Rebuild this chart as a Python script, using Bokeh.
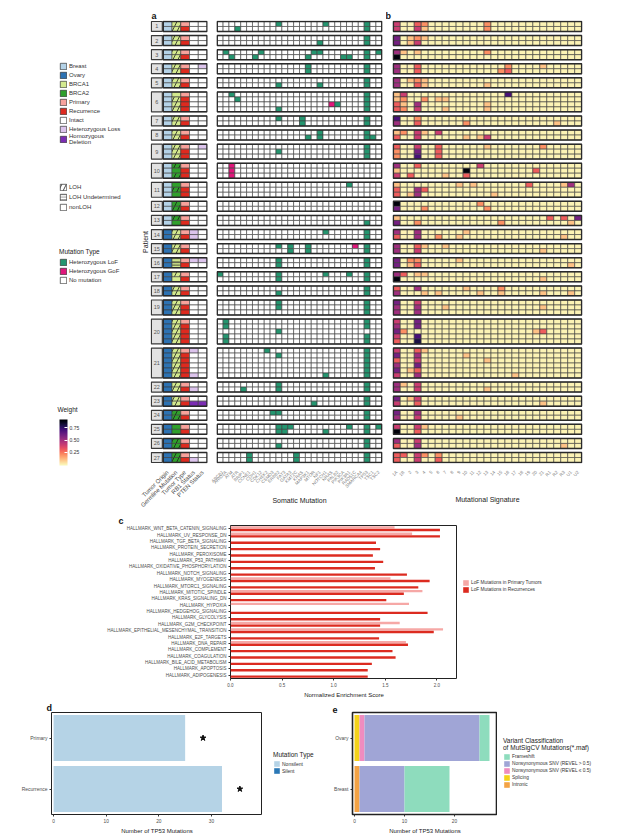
import math
from bokeh.plotting import figure
from bokeh.models import (ColumnDataSource, Range1d, FactorRange, FixedTicker, Legend,
                          LegendItem, LinearColorMapper, ColorBar, Label, NumeralTickFormatter,
                          Title)
from bokeh.layouts import row, column
from bokeh.transform import dodge
from bokeh.palettes import Magma256
from bokeh.embed import file_html
from bokeh.resources import INLINE
from bokeh.core.properties import value

FONT = "Liberation Sans"
TXT = "#333333"
NAN = float("nan")

# ---------------- data : panels a / b ----------------
patients = [str(i) for i in range(1, 28)]
n_samples = [2, 2, 2, 2, 2, 4, 2, 2, 3, 3, 3, 2, 2, 2, 2, 2, 2, 2, 3, 5, 6, 2, 2, 2, 2, 2, 2]
tumor_origin = ["Breast"] * 13 + ["Ovary"] * 14
germline = ["BRCA1"] * 9 + ["BRCA2"] * 4 + ["BRCA1"] * 10 + ["BRCA2"] * 4
loh_status = ["LL", "LL", "LL", "LL", "LL", "NLLL", "LL", "LL", "LLL", "LNL", "NLN", "LL", "LN",
              "LL", "LL", "UU", "LN", "LL", "LLL", "LLLLL", "LLLLLL", "LL", "LL", "LL", "NN", "LL", "LL"]
tumor_type = ["PR", "PR", "PR", "PR", "PR", "PRRR", "PR", "PR", "PRR", "PRR", "PRR", "PR", "PR",
              "PR", "PR", "PR", "PR", "PR", "PRR", "PRRRR", "PRRRRR", "PR", "PR", "PR", "PR", "PR", "PR"]
rb1_status = ["II", "II", "II", "II", "II", "IIII", "II", "II", "III", "III", "III", "II", "II",
              "HH", "II", "HI", "II", "II", "III", "IIIII", "HIIIIH", "IH", "ID", "II", "II", "II", "IH"]
pten_status = ["II", "II", "II", "HI", "II", "IIII", "II", "II", "HII", "III", "III", "II", "II",
               "II", "II", "HI", "II", "II", "III", "IIIII", "IIIIII", "II", "ID", "II", "II", "II", "II"]
ann_columns = ["Tumor Origin", "Germline Mutation", "Tumor Type", "RB1 Status", "PTEN Status"]

genes = ["ABCB1", "ARID1A", "ATM", "ATR", "BRIP1", "CCNE1", "CDH1", "CDK12", "CHEK2", "CSMD3",
         "ERBB2", "FAT3", "GATA3", "KMT2C", "KRAS", "MAP3K1", "MTOR", "NF1", "NOTCH1", "NRAS",
         "PALB2", "PIK3CA", "PIK3R1", "RAD51C", "SMARCA4", "TP53", "TSC1", "TSC2"]

# heterozygous LoF hits (gene indices) for every sample, patient by patient
lof_hits = [
    [10, 18, 25], [3, 25],                                   # 1
    [25], [17, 25],                                          # 2
    [1, 7, 16, 17, 25, 27], [2, 6, 15, 21, 22, 25],          # 3
    [15, 25], [15, 25],                                      # 4
    [25], [10, 17, 25],                                      # 5
    [2, 25], [3, 25], [20, 25], [10, 25],                    # 6
    [10, 14, 25], [14, 25],                                  # 7
    [17, 25], [15, 17, 25, 26],                              # 8
    [25], [10, 25], [25],                                    # 9
    [], [], [],                                              # 10
    [22], [], [],                                            # 11
    [], [],                                                  # 12
    [], [25],                                                # 13
    [18, 25], [25],                                          # 14
    [10, 12, 15, 25], [12, 15, 25],                          # 15
    [10, 25], [10, 25],                                      # 16
    [0, 10, 18, 22, 25], [10, 25],                           # 17
    [25], [10, 25],                                          # 18
    [10, 25], [10, 25], [25],                                # 19
    [1, 25], [1, 25], [10], [1, 25], [1, 25],                # 20
    [8, 25], [10, 25], [25], [25], [25], [18, 25],           # 21
    [10, 25], [4, 10, 25],                                   # 22
    [25], [16, 25],                                          # 23
    [9, 10, 25], [25],                                       # 24
    [10, 11, 12, 22, 25, 27], [10, 11, 18, 25],              # 25
    [25], [10, 25],                                          # 26
    [5, 13, 25], [5, 13, 25],                                # 27
]
# heterozygous GoF hits: sample number -> gene indices
gof_hits = {12: [19], 21: [2], 22: [2], 23: [2], 33: [23]}

signatures = ["1A", "1B", "2", "3", "4", "5", "6", "7", "8", "9", "10", "11", "12", "13", "14",
              "15", "16", "17", "18", "19", "20", "21", "R1", "R2", "R3", "U1", "U2"]
# signature weights in tenths, one string per sample
sig_weights = [
    "40032 00000 00020 00000 00000 00", "40041 00000 00020 00000 00000 00",   # 1
    "60121 00000 00000 00000 00000 00", "60140 00000 00000 00000 00000 00",   # 2
    "51010 00000 00020 00000 00000 00", "90000 00000 00000 00000 00000 00",   # 3
    "50030 00000 00000 02000 01000 00", "50030 00000 00000 23000 00000 00",   # 4
    "50121 00000 00000 00000 00000 00", "50031 00000 00010 00000 00000 00",   # 5
    "14000 00000 00000 07000 00000 00", "12002 01100 00000 00000 00000 00",   # 6
    "31050 00000 00010 00000 00000 00", "32040 00100 00010 00000 00000 00",
    "70020 00000 00000 00000 00000 00", "50030 00000 20000 00000 00010 00",   # 7
    "12041 04000 00000 00000 00000 00", "30040 00000 10140 00000 00000 00",   # 8
    "30040 03000 00010 00000 02000 00", "20060 03000 00000 00000 00000 00",   # 9
    "20070 03000 00000 00000 00000 00",
    "50030 00000 00400 00000 00000 00", "10000 00000 90000 00000 30000 00",   # 10
    "40300 00100 30000 00000 00000 00",
    "10000 00001 01000 00003 00001 50", "30053 00000 00000 00000 00000 00",   # 11
    "30150 00000 00001 00000 00000 00",
    "90000 00000 00200 00000 00000 00", "60002 00000 00020 00000 00000 00",   # 12
    "10000 00000 00000 00000 00303 06", "60020 00000 00000 20000 00000 10",   # 13
    "50050 00000 10000 00000 00000 00", "30050 02001 00000 00000 00001 00",   # 14
    "50031 00100 00000 00000 00000 00", "50040 00000 00000 00000 01000 00",   # 15
    "60220 00001 00000 00000 00000 00", "60130 00000 00000 00000 00000 10",   # 16
    "53011 00000 00000 00000 00000 00", "90000 00000 00000 00000 01000 00",   # 17
    "30050 00000 10000 20000 00000 00", "50001 01000 00100 10000 01000 10",   # 18
    "60040 00000 00000 00000 00000 00", "50050 00100 00000 00000 01000 00",   # 19
    "50050 00000 00000 00000 00000 00",
    "40060 00000 00000 00000 00000 00", "50060 00000 00000 00000 00000 00",   # 20
    "62000 00000 00000 00000 13000 00", "40070 00000 00000 00000 00000 00",
    "30080 00000 00000 00000 00000 00",
    "40031 00000 00000 00000 00000 00", "60050 00000 10000 00000 00000 00",   # 21
    "30040 00000 00010 00000 00000 00", "50060 00000 00000 00000 00000 00",
    "60130 00000 00000 00000 00000 00", "40050 00000 00000 00100 00000 00",
    "51040 00000 00000 00000 00000 00", "50040 00000 00010 00000 00000 00",   # 22
    "60140 00000 00000 00000 00000 00", "40030 00000 00000 00000 01000 00",   # 23
    "60050 00000 00000 00000 00000 00", "50040 00001 00000 00000 00000 00",   # 24
    "40041 00000 00000 00000 00000 00", "90030 00000 00000 00000 00000 00",   # 25
    "50040 00000 00000 00000 00000 00", "30050 00000 00000 00000 00001 00",   # 26
    "33042 02000 00000 00000 00000 00", "30040 03000 00000 00000 00000 00",   # 27
]

# ---------------- data : panel c ----------------
pathways = ["HALLMARK_WNT_BETA_CATENIN_SIGNALING", "HALLMARK_UV_RESPONSE_DN",
            "HALLMARK_TGF_BETA_SIGNALING", "HALLMARK_PROTEIN_SECRETION", "HALLMARK_PEROXISOME",
            "HALLMARK_P53_PATHWAY", "HALLMARK_OXIDATIVE_PHOSPHORYLATION", "HALLMARK_NOTCH_SIGNALING",
            "HALLMARK_MYOGENESIS", "HALLMARK_MTORC1_SIGNALING", "HALLMARK_MITOTIC_SPINDLE",
            "HALLMARK_KRAS_SIGNALING_DN", "HALLMARK_HYPOXIA", "HALLMARK_HEDGEHOG_SIGNALING",
            "HALLMARK_GLYCOLYSIS", "HALLMARK_G2M_CHECKPOINT",
            "HALLMARK_EPITHELIAL_MESENCHYMAL_TRANSITION", "HALLMARK_E2F_TARGETS",
            "HALLMARK_DNA_REPAIR", "HALLMARK_COMPLEMENT", "HALLMARK_COAGULATION",
            "HALLMARK_BILE_ACID_METABOLISM", "HALLMARK_APOPTOSIS", "HALLMARK_ADIPOGENESIS"]
nes_primary = [1.59, 1.76, None, None, None, None, None, None, 1.55, None, 1.86, None, 1.73,
               None, None, 1.64, 2.06, None, 1.70, None, None, None, None, None]
nes_recurrence = [2.03, 2.03, 1.41, 1.45, 1.38, 1.48, 1.40, 1.71, 1.93, 1.82, 1.68, 1.51, None,
                  1.91, 1.45, 1.45, 1.97, 1.44, 1.72, 1.57, 1.60, 1.37, 1.33, 1.33]

# ---------------- data : panel d ----------------
d_groups = ["Primary", "Recurrence"]
d_nonsilent = [25, 32]
d_silent = [0, 0]

# ---------------- data : panel e ----------------
e_groups = ["Ovary", "Breast"]
e_frameshift = [2, 9]
e_ns_high = [23, 9]
e_ns_low = [1, 0]
e_splicing = [1, 0]
e_intronic = [0, 1]

# ---------------- colours ----------------
C_ORIGIN = {"Breast": "#b4d2e7", "Ovary": "#2d72b2"}
C_GERM = {"BRCA1": "#d3e98e", "BRCA2": "#30a02c"}
C_TYPE = {"P": "#f8a29c", "R": "#de2a1f"}
C_STATUS = {"I": "#ffffff", "H": "#dcc4ec", "D": "#7b2cb3"}
C_MUT = {".": "#ffffff", "L": "#24956f", "G": "#e0177b"}
HATCH = {"L": "/", "U": "-", "N": " "}
HSCALE = {"L": 10.0, "U": 3.2, "N": 10.0}
C_PRIM, C_REC = "#f6a8a6", "#dc2b20"
C_NONSIL, C_SIL = "#b5d3e6", "#2b78b6"
E_COLORS = {"Frameshift": "#8edcbd", "high": "#a0a5d6", "low": "#ef8cbf",
            "Splicing": "#f4d21a", "Intronic": "#f3a345"}
mapper = LinearColorMapper(palette=list(reversed(Magma256)), low=-0.02, high=0.92)

# ---------------- row layout ----------------
GAP = 0.83
row_top, pat_top, pat_bot = [], [], []
yy = 0.0
for n in n_samples:
    pat_top.append(yy)
    row_top.extend(yy + k for k in range(n))
    yy += n
    pat_bot.append(yy)
    yy += GAP
y_total = pat_bot[-1]
y_rng = Range1d(y_total + 0.2, -0.2)

s_origin, s_germ, s_loh, s_type, s_rb1, s_pten = [], [], [], [], [], []
for i, n in enumerate(n_samples):
    for k in range(n):
        s_origin.append(tumor_origin[i]); s_germ.append(germline[i])
        s_loh.append(loh_status[i][k]); s_type.append(tumor_type[i][k])
        s_rb1.append(rb1_status[i][k]); s_pten.append(pten_status[i][k])
NS = len(row_top)

TOP_H = 513
BT, BB = 20, 45


def top_fig(width, xr, bl, br, yaxis=False):
    p = figure(width=width, height=TOP_H, x_range=xr, y_range=y_rng, output_backend="svg",
               toolbar_location=None, title=None, y_axis_location="left" if yaxis else None,
               min_border_left=bl, min_border_right=br, min_border_top=BT, min_border_bottom=BB)
    p.outline_line_color = None
    p.grid.visible = False
    return p


def legend_fig(width, height, bt, bb):
    p = figure(width=width, height=height, x_range=Range1d(0, 1), y_range=Range1d(0, 1),
               x_axis_location=None, y_axis_location=None, output_backend="svg",
               toolbar_location=None, title=None, min_border_left=0, min_border_right=0,
               min_border_top=bt, min_border_bottom=bb)
    p.outline_line_color = None
    p.grid.visible = False
    return p


def letter_title(text, offset):
    return Title(text=text, align="left", offset=offset, standoff=0, text_font=FONT,
                 text_font_size="9px", text_font_style="bold", text_color="#111111")


def style_xaxis(p, labels, size, color, title=None, title_standoff=4):
    ax = p.xaxis[0]
    ax.ticker = FixedTicker(ticks=list(range(len(labels))))
    ax.major_label_overrides = {i: lab for i, lab in enumerate(labels)}
    ax.major_label_orientation = math.pi / 4
    ax.major_label_text_font = FONT
    ax.major_label_text_font_size = size
    ax.major_label_text_color = color
    ax.major_label_standoff = 2
    ax.axis_line_color = None
    ax.major_tick_line_color = None
    ax.minor_tick_line_color = None
    if title:
        ax.axis_label = title
        ax.axis_label_text_font = FONT
        ax.axis_label_text_font_size = "7px"
        ax.axis_label_text_font_style = "normal"
        ax.axis_label_text_color = "#222222"
        ax.axis_label_standoff = title_standoff


def swatch(fig, fill, hatch=" ", scale=10.0, line="#333333"):
    # legend key only: one point with no position, so nothing is drawn in the plot area
    return fig.rect(x=[NAN], y=[NAN], width=1, height=1, fill_color=fill, line_color=line,
                    line_width=0.7, hatch_pattern=hatch, hatch_scale=scale,
                    hatch_color="#1a1a1a", hatch_weight=0.8)


def style_legend(leg, fsize="6px", glyph=8, lh=9):
    leg.label_text_font = FONT
    leg.label_text_font_size = fsize
    leg.label_text_color = TXT
    leg.title_text_font = FONT
    leg.title_text_font_size = "6.5px"
    leg.title_text_font_style = "normal"
    leg.title_text_color = "#222222"
    leg.title_standoff = 2
    leg.glyph_width = glyph
    leg.glyph_height = glyph
    leg.label_height = lh
    leg.label_standoff = 2
    leg.padding = 0
    leg.margin = 0
    leg.spacing = 0
    leg.background_fill_alpha = 0
    leg.border_line_color = None


# ---------------- annotation figure (panel a, left part) ----------------
pa = top_fig(76, Range1d(-1.95, 4.55), 16, 3, yaxis=True)
pa.title = letter_title("a", 1)
ax_, ay_, af_, ah_, hs_ = [], [], [], [], []
for j in range(NS):
    yc = row_top[j] + 0.5
    fills = [C_ORIGIN[s_origin[j]], C_GERM[s_germ[j]], C_TYPE[s_type[j]],
             C_STATUS[s_rb1[j]], C_STATUS[s_pten[j]]]
    for c, f in enumerate(fills):
        ax_.append(c); ay_.append(yc); af_.append(f)
        ah_.append(HATCH[s_loh[j]] if c == 1 else " ")
        hs_.append(HSCALE[s_loh[j]])
pa.rect(x="x", y="y", width=1, height=1, fill_color="fill", line_color="#3a3a3a",
        line_width=0.6, hatch_pattern="hatch", hatch_scale="hs", hatch_color="#1a1a1a",
        hatch_weight=0.8,
        source=ColumnDataSource(dict(x=ax_, y=ay_, fill=af_, hatch=ah_, hs=hs_)))
blk = ColumnDataSource(dict(y=[(a + b) / 2 for a, b in zip(pat_top, pat_bot)],
                            h=[b - a for a, b in zip(pat_top, pat_bot)], t=patients))
pa.rect(x=2, y="y", width=5, height="h", fill_alpha=0, line_color="#2a2a2a", line_width=1.5,
        source=blk)
pa.rect(x=-1.225, y="y", width=1.25, height="h", fill_color="#e2e2e2", line_color="#3a3a3a",
        line_width=1.2, source=blk)
pa.text(x=-1.225, y="y", text="t", text_font=value(FONT), text_font_size="5.5px",
        text_align="center", text_baseline="middle", text_color="#555555", source=blk)
style_xaxis(pa, ann_columns, "6px", "#4d4d4d")
yax = pa.yaxis[0]
yax.ticker = FixedTicker(ticks=[])
yax.axis_line_color = None
yax.major_tick_line_color = None
yax.minor_tick_line_color = None
yax.axis_label = "Patient"
yax.axis_label_text_font = FONT
yax.axis_label_text_font_size = "7px"
yax.axis_label_text_font_style = "normal"
yax.axis_label_text_color = "#222222"
yax.axis_label_standoff = 2

# ---------------- somatic mutation figure ----------------
ps = top_fig(176, Range1d(-0.62, 27.62), 6, 4)
mx, my, mf = [], [], []
for j in range(NS):
    for g in range(len(genes)):
        code = "L" if g in lof_hits[j] else ("G" if g in gof_hits.get(j, []) else ".")
        mx.append(g); my.append(row_top[j] + 0.5); mf.append(C_MUT[code])
ps.rect(x="x", y="y", width=1, height=1, fill_color="fill", line_color="#3a3a3a",
        line_width=0.6, source=ColumnDataSource(dict(x=mx, y=my, fill=mf)))
ps.rect(x=(len(genes) - 1) / 2, y="y", width=len(genes), height="h", fill_alpha=0,
        line_color="#2a2a2a", line_width=1.5, source=blk)
style_xaxis(ps, genes, "4.5px", "#7a7a7a", "Somatic Mutation", 4)

# ---------------- mutational signature figure (panel b) ----------------
pg = top_fig(257, Range1d(-0.62, 26.62), 6, 61)
pg.title = letter_title("b", -7)
gx, gy, gw = [], [], []
for j in range(NS):
    digits = sig_weights[j].replace(" ", "")
    for c, ch in enumerate(digits):
        gx.append(c); gy.append(row_top[j] + 0.5); gw.append(int(ch) / 10)
pg.rect(x="x", y="y", width=1, height=1, fill_color={"field": "w", "transform": mapper},
        line_color="#3a3a3a", line_width=0.6, source=ColumnDataSource(dict(x=gx, y=gy, w=gw)))
pg.rect(x=(len(signatures) - 1) / 2, y="y", width=len(signatures), height="h", fill_alpha=0,
        line_color="#2a2a2a", line_width=1.5, source=blk)
style_xaxis(pg, signatures, "4.5px", "#7a7a7a", "Mutational Signature", 14)

# ---------------- legend figure (panel a, far left) ----------------
pl = legend_fig(134, TOP_H, BT, BB)

leg1_items = [("Breast", C_ORIGIN["Breast"]), ("Ovary", C_ORIGIN["Ovary"]),
              ("BRCA1", C_GERM["BRCA1"]), ("BRCA2", C_GERM["BRCA2"]),
              ("Primary", C_TYPE["P"]), ("Recurrence", C_TYPE["R"]),
              ("Intact", C_STATUS["I"]), ("Heterozygous Loss", C_STATUS["H"]),
              ("Homozygous\nDeletion", C_STATUS["D"])]
leg1 = Legend(items=[LegendItem(label=l, renderers=[swatch(pl, c)]) for l, c in leg1_items],
              location=(59, 318))
style_legend(leg1)
pl.add_layout(leg1)

leg2_items = [("LOH", "L"), ("LOH Undetermined", "U"), ("nonLOH", "N")]
leg2 = Legend(items=[LegendItem(label=l, renderers=[swatch(pl, "#ffffff", HATCH[k], HSCALE[k] - 1)])
                     for l, k in leg2_items], location=(59, 251))
style_legend(leg2, lh=10)
pl.add_layout(leg2)

leg3_items = [("Heterozygous LoF", C_MUT["L"]), ("Heterozygous GoF", C_MUT["G"]),
              ("No mutation", C_MUT["."])]
leg3 = Legend(items=[LegendItem(label=l, renderers=[swatch(pl, c)]) for l, c in leg3_items],
              location=(59, 179), title="Mutation Type")
style_legend(leg3)
pl.add_layout(leg3)

cbar = ColorBar(color_mapper=mapper, location=(59, -2), width=8, height=46, title=None,
                ticker=FixedTicker(ticks=[0.25, 0.5, 0.75]),
                formatter=NumeralTickFormatter(format="0.00"),
                major_label_text_font=FONT, major_label_text_font_size="5px",
                major_label_text_color=TXT, padding=0, background_fill_alpha=0,
                bar_line_color=None, major_tick_line_color="white", major_tick_in=3,
                major_tick_out=0, minor_tick_line_color=None, label_standoff=2)
pl.add_layout(cbar)
pl.add_layout(Label(x=0.425, y=0.114, text="Weight", text_font=FONT, text_font_size="6.5px",
                    text_color="#222222", text_baseline="bottom"))


def style_plain_axes(p, xsize="4.5px", ysize="5px"):
    for ax in (p.xaxis[0], p.yaxis[0]):
        ax.axis_line_color = None
        ax.major_tick_line_color = "#333333"
        ax.major_tick_out = 2
        ax.major_tick_in = 0
        ax.minor_tick_line_color = None
        ax.major_label_text_font = FONT
        ax.major_label_text_color = "#4d4d4d"
        ax.major_label_standoff = 2
        ax.axis_label_text_font = FONT
        ax.axis_label_text_font_size = "6px"
        ax.axis_label_text_font_style = "normal"
        ax.axis_label_text_color = "#222222"
        ax.axis_label_standoff = 2
    p.xaxis[0].major_label_text_font_size = xsize
    p.yaxis[0].major_label_text_font_size = ysize


# ---------------- panel c ----------------
C_H = 187
pc = figure(width=457, height=C_H, x_range=Range1d(0, 2.2),
            y_range=FactorRange(factors=pathways[::-1]), output_backend="svg",
            toolbar_location=None, title=None, min_border_left=230, min_border_right=0,
            min_border_top=9, min_border_bottom=20)
pc.title = letter_title("c", -112)
pc.grid.visible = False
pc.outline_line_color = "#222222"
pc.outline_line_width = 1
src_p = ColumnDataSource(dict(pw=[p for p, v in zip(pathways, nes_primary) if v is not None],
                              v=[v for v in nes_primary if v is not None]))
src_r = ColumnDataSource(dict(pw=[p for p, v in zip(pathways, nes_recurrence) if v is not None],
                              v=[v for v in nes_recurrence if v is not None]))
pc.hbar(y=dodge("pw", 0.21, range=pc.y_range), left=0, right="v", height=0.38,
        fill_color=C_PRIM, line_color=None, source=src_p)
pc.hbar(y=dodge("pw", -0.21, range=pc.y_range), left=0, right="v", height=0.38,
        fill_color=C_REC, line_color=None, source=src_r)
style_plain_axes(pc, "4.5px", "4.5px")
pc.xaxis[0].ticker = FixedTicker(ticks=[0, 0.5, 1.0, 1.5, 2.0])
pc.xaxis[0].formatter = NumeralTickFormatter(format="0.0")
pc.xaxis[0].axis_label = "Normalized Enrichment Score"

pcl = legend_fig(643 - 457, C_H, 9, 20)
legc = Legend(items=[LegendItem(label="LoF Mutations in Primary Tumors",
                                renderers=[swatch(pcl, C_PRIM, line=None)]),
                     LegendItem(label="LoF Mutations in Recurrences",
                                renderers=[swatch(pcl, C_REC, line=None)])],
              location=(5, 85))
style_legend(legc, fsize="4.8px", glyph=7, lh=7)
pcl.add_layout(legc)

# ---------------- panel d ----------------
B_H = 136
pd = figure(width=262, height=B_H, x_range=Range1d(-0.4, 39.7),
            y_range=FactorRange(factors=d_groups[::-1]), output_backend="svg",
            toolbar_location=None, title=None, min_border_left=51, min_border_right=0,
            min_border_top=11, min_border_bottom=20)
pd.title = letter_title("d", -5)
pd.grid.visible = False
pd.outline_line_color = "#222222"
src_d = ColumnDataSource(dict(g=d_groups, ns=d_nonsilent, si=d_silent,
                              tot=[a + b for a, b in zip(d_nonsilent, d_silent)],
                              star=[a + b + 3.4 for a, b in zip(d_nonsilent, d_silent)]))
pd.hbar(y="g", left=0, right="ns", height=0.9, fill_color=C_NONSIL, line_color=None,
        source=src_d)
pd.hbar(y="g", left="ns", right="tot", height=0.9, fill_color=C_SIL, line_color=None,
        source=src_d)
pd.scatter(x="star", y="g", marker="star", size=6, fill_color="#111111", line_color="#111111",
           source=src_d)
style_plain_axes(pd, "4.8px", "5px")
pd.xaxis[0].ticker = FixedTicker(ticks=[0, 10, 20, 30])
pd.xaxis[0].axis_label = "Number of TP53 Mutations"

pdl = legend_fig(325 - 262, B_H, 11, 20)
legd = Legend(items=[LegendItem(label="Nonsilent", renderers=[swatch(pdl, C_NONSIL, line=None)]),
                     LegendItem(label="Silent", renderers=[swatch(pdl, C_SIL, line=None)])],
              location=(11, 40), title="Mutation Type")
style_legend(legd, fsize="5px", glyph=7, lh=7)
pdl.add_layout(legd)

# ---------------- panel e ----------------
pe = figure(width=497 - 325, height=B_H, x_range=Range1d(-0.4, 28.6),
            y_range=FactorRange(factors=e_groups[::-1]), output_backend="svg",
            toolbar_location=None, title=None, min_border_left=27, min_border_right=0,
            min_border_top=11, min_border_bottom=20)
pe.title = letter_title("e", -20)
pe.grid.visible = False
pe.outline_line_color = "#222222"
pe.outline_line_width = 1.6
src_e = ColumnDataSource(dict(g=e_groups, intronic=e_intronic, splicing=e_splicing,
                              low=e_ns_low, high=e_ns_high, frameshift=e_frameshift))
stack_keys = ["intronic", "splicing", "low", "high", "frameshift"]
stack_cols = [E_COLORS["Intronic"], E_COLORS["Splicing"], E_COLORS["low"], E_COLORS["high"],
              E_COLORS["Frameshift"]]
pe.hbar_stack(stack_keys, y="g", height=0.9, color=stack_cols, line_color=None, source=src_e)
style_plain_axes(pe, "4.8px", "5px")
pe.xaxis[0].ticker = FixedTicker(ticks=[0, 10, 20])
pe.xaxis[0].axis_label = "Number of TP53 Mutations"

pel = legend_fig(643 - 497, B_H, 11, 20)
e_labels = ["Frameshift", "Nonsynonymous SNV (REVEL > 0.5)",
            "Nonsynonymous SNV (REVEL \u2264 0.5)", "Splicing", "Intronic"]
e_keycols = [E_COLORS["Frameshift"], E_COLORS["high"], E_COLORS["low"], E_COLORS["Splicing"],
             E_COLORS["Intronic"]]
lege = Legend(items=[LegendItem(label=l, renderers=[swatch(pel, c, line=None)])
                     for l, c in zip(e_labels, e_keycols)],
              location=(6, 26), title="Variant Classification\nof MutSigCV Mutations(*.maf)")
style_legend(lege, fsize="4.8px", glyph=7, lh=7)
pel.add_layout(lege)

layout = column(row(pl, pa, ps, pg), row(pc, pcl), row(pd, pdl, pe, pel))
open("out.html", "w").write(file_html(layout, INLINE))
